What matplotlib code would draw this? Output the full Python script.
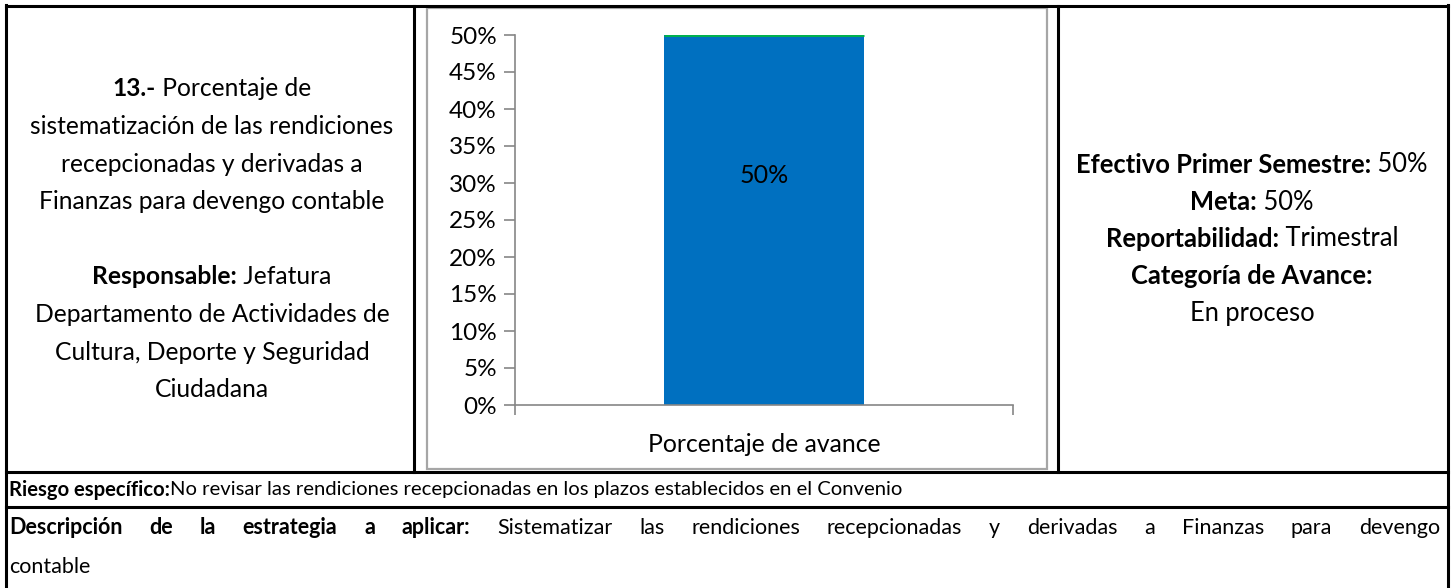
import matplotlib
matplotlib.use("Agg")
import matplotlib.pyplot as plt
from matplotlib.ticker import FuncFormatter
from matplotlib import font_manager

# data
categories = ["Porcentaje de avance"]
values = [0.50]
y_ticks = [0.00, 0.05, 0.10, 0.15, 0.20, 0.25, 0.30, 0.35, 0.40, 0.45, 0.50]

left_lines = [
    [("13.-", "bold"), (" Porcentaje de", "normal")],
    [("sistematización de las rendiciones", "normal")],
    [("recepcionadas y derivadas a", "normal")],
    [("Finanzas para devengo contable", "normal")],
    [],
    [("Responsable:", "bold"), (" Jefatura", "normal")],
    [("Departamento de Actividades de", "normal")],
    [("Cultura, Deporte y Seguridad", "normal")],
    [("Ciudadana", "normal")],
]
right_lines = [
    [("Efectivo Primer Semestre:", "bold"), (" 50%", "normal")],
    [("Meta:", "bold"), (" 50%", "normal")],
    [("Reportabilidad:", "bold"), (" Trimestral", "normal")],
    [("Categoría de Avance:", "bold")],
    [("En proceso", "normal")],
]
riesgo = [("Riesgo específico:", "bold"), ("No revisar las rendiciones recepcionadas en los plazos establecidos en el Convenio", "normal")]
desc_label = "Descripción de la estrategia a aplicar:"
desc_line1 = "Sistematizar las rendiciones recepcionadas y derivadas a Finanzas para devengo"
desc_line2 = "contable"

FONT = "Lato"
names = {f.name for f in font_manager.fontManager.ttflist}
NARROW = "Liberation Sans Narrow" if "Liberation Sans Narrow" in names else FONT

W, H = 1454, 588
fig = plt.figure(figsize=(W / 100, H / 100), dpi=100)
fig.patch.set_facecolor("white")

# overlay in pixel coords for the table
ov = fig.add_axes([0, 0, 1, 1])
ov.set_xlim(0, W)
ov.set_ylim(H, 0)
ov.axis("off")

lw = 2.2
ov.plot([6, 1448], [6, 6], color="black", lw=lw)
ov.plot([6, 6], [5, H], color="black", lw=lw)
ov.plot([1448, 1448], [5, H], color="black", lw=lw)
ov.plot([6, 1448], [472, 472], color="black", lw=lw)
ov.plot([6, 1448], [507, 507], color="black", lw=lw)
ov.plot([414, 414], [6, 472], color="black", lw=lw)
ov.plot([1058, 1058], [6, 472], color="black", lw=lw)
ov.add_patch(plt.Rectangle((427, 8), 620, 461, fill=False, ec="#a6a6a6", lw=1.6))

fig.canvas.draw()
renderer = fig.canvas.get_renderer()


def rich_line(segs, x, y, size, align="center", family=FONT):
    arts = []
    for txt, wt in segs:
        t = ov.text(0, y, txt, fontsize=size, fontweight=wt, family=family,
                    ha="left", va="center", color="black")
        arts.append(t)
    widths = [a.get_window_extent(renderer).width for a in arts]
    total = sum(widths)
    start = x - total / 2 if align == "center" else x
    for a, w in zip(arts, widths):
        a.set_x(start)
        start += w
    return total


for i, segs in enumerate(left_lines):
    if segs:
        rich_line(segs, 212, 89 + i * 37.6, 17.7)

for i, segs in enumerate(right_lines):
    rich_line(segs, 1252, 165 + i * 37, 18.4)

rich_line(riesgo, 9, 490, 14.6, align="left", family=NARROW)

# justified description line
words = [(w, "bold") for w in desc_label.split()] + [(w, "normal") for w in desc_line1.split()]
arts = [ov.text(0, 528, w, fontsize=15.5, fontweight=wt, family=NARROW, ha="left", va="center")
        for w, wt in words]
widths = [a.get_window_extent(renderer).width for a in arts]
gap = (1440 - 9 - sum(widths)) / (len(arts) - 1)
xpos = 9
for a, w in zip(arts, widths):
    a.set_x(xpos)
    xpos += w + gap
ov.text(9, 567, desc_line2, fontsize=15.5, family=NARROW, ha="left", va="center")

# chart
ax = fig.add_axes([515 / W, (H - 405) / H, (1013 - 515) / W, (405 - 35) / H])
x = list(range(len(categories)))
bars = ax.bar(x, values, width=0.4, color="#0070C0", zorder=2)
for b in bars:
    ax.plot([b.get_x(), b.get_x() + b.get_width()], [b.get_height()] * 2,
            color="#00B050", lw=2.2, solid_capstyle="butt", zorder=3)
    ax.text(b.get_x() + b.get_width() / 2, b.get_height() * 0.62, f"{b.get_height():.0%}",
            ha="center", va="center", fontsize=18, family=FONT, color="black")
ax.set_xlim(-0.5, len(categories) - 0.5)
ax.set_ylim(0, 0.5)
ax.set_yticks(y_ticks)
ax.yaxis.set_major_formatter(FuncFormatter(lambda v, p: f"{v:.0%}"))
ax.set_xticks([-0.5, len(categories) - 0.5])
ax.set_xticklabels([])
ax.set_xticks(x, minor=True)
ax.set_xticklabels(categories, minor=True)
ax.tick_params(axis="x", which="minor", length=0, pad=20, labelsize=17.8)
ax.tick_params(axis="x", which="major", length=7, color="#868686", width=1.2)
ax.tick_params(axis="y", length=8, color="#868686", width=1.2, labelsize=17.5, pad=5)
for lab in ax.get_xticklabels(minor=True) + ax.get_yticklabels():
    lab.set_family(FONT)
for s in ["top", "right"]:
    ax.spines[s].set_visible(False)
for s in ["left", "bottom"]:
    ax.spines[s].set_color("#868686")
    ax.spines[s].set_linewidth(1.2)
ax.set_facecolor("none")

fig.savefig("out.png", dpi=100)
